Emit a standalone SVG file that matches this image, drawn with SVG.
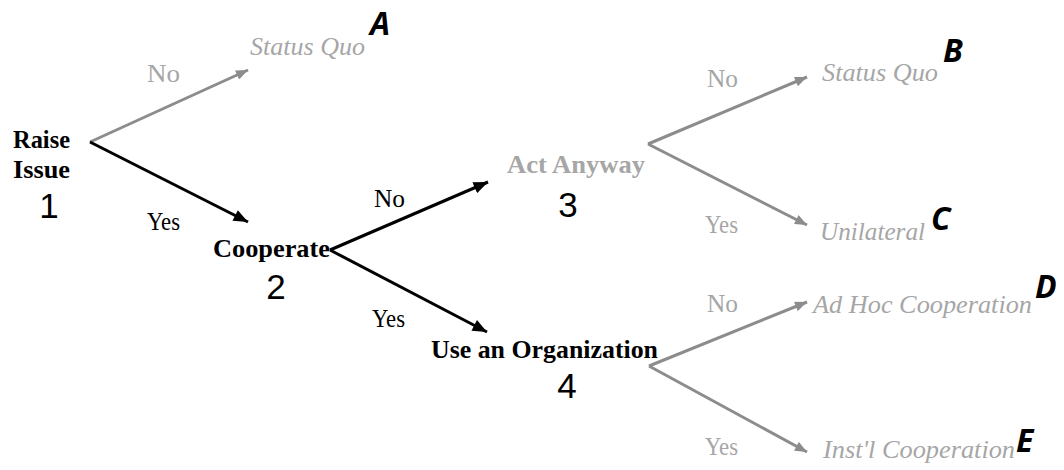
<svg xmlns="http://www.w3.org/2000/svg" width="1064" height="470" viewBox="0 0 1064 470">
<defs>
<marker id="ahB" viewBox="0 0 12 10" refX="12" refY="5" markerWidth="15" markerHeight="12" markerUnits="userSpaceOnUse" orient="auto"><path d="M0,0 L12,5 L0,10 Z" fill="#000"/></marker>
<marker id="ahG" viewBox="0 0 12 10" refX="12" refY="5" markerWidth="13" markerHeight="10" markerUnits="userSpaceOnUse" orient="auto"><path d="M0,0 L12,5 L0,10 Z" fill="#8c8c8c"/></marker>
</defs>
<style>
text{font-family:"Liberation Serif",serif}
.node{font-weight:bold;font-size:26px;fill:#000}
.gnode{font-weight:bold;font-size:26px;fill:#a6a6a6}
.num{font-family:"Liberation Sans",sans-serif;font-size:35px;fill:#000;text-anchor:middle}
.lbl{font-size:25px;fill:#a6a6a6}
.lblB{font-size:25px;fill:#000}
.out{font-style:italic;font-size:26px;fill:#a6a6a6}
.let{font-family:"Open Sans","Liberation Sans",sans-serif;font-style:italic;font-weight:bold;font-size:32px;fill:#000}
.cb{stroke:#000;stroke-width:3;fill:none;marker-end:url(#ahB)}
.cg{stroke:#8c8c8c;stroke-width:3;fill:none;marker-end:url(#ahG)}
</style>
<rect width="1064" height="470" fill="#fff"/>
<g id="connectors">
<line class="cg" x1="90" y1="142" x2="248" y2="70"/>
<line class="cb" x1="90" y1="142" x2="248" y2="222"/>
<line class="cb" x1="330" y1="250" x2="488" y2="182"/>
<line class="cb" x1="330" y1="250" x2="487" y2="332"/>
<line class="cg" x1="648" y1="144" x2="807" y2="77"/>
<line class="cg" x1="648" y1="144" x2="807" y2="225"/>
<line class="cg" x1="649" y1="366" x2="807" y2="302"/>
<line class="cg" x1="649" y1="366" x2="807" y2="452"/>
<text class="lbl" x="147" y="82" textLength="33" lengthAdjust="spacingAndGlyphs">No</text>
<text class="lblB" x="147" y="230" textLength="33" lengthAdjust="spacingAndGlyphs">Yes</text>
<text class="lblB" x="374" y="207" textLength="31" lengthAdjust="spacingAndGlyphs">No</text>
<text class="lblB" x="372" y="327" textLength="33" lengthAdjust="spacingAndGlyphs">Yes</text>
<text class="lbl" x="707" y="87" textLength="31" lengthAdjust="spacingAndGlyphs">No</text>
<text class="lbl" x="705" y="233" textLength="33" lengthAdjust="spacingAndGlyphs">Yes</text>
<text class="lbl" x="707" y="312" textLength="31" lengthAdjust="spacingAndGlyphs">No</text>
<text class="lbl" x="705" y="455" textLength="33" lengthAdjust="spacingAndGlyphs">Yes</text>
</g>
<g id="node1">
<text class="node" x="13" y="148" textLength="57" lengthAdjust="spacingAndGlyphs">Raise</text>
<text class="node" x="13" y="178" textLength="57" lengthAdjust="spacingAndGlyphs">Issue</text>
<text class="num" x="49" y="218">1</text>
</g>
<g id="nodeA">
<text class="out" x="250" y="55" textLength="115" lengthAdjust="spacingAndGlyphs">Status Quo</text>
<text class="let" x="370" y="35">A</text>
</g>
<g id="node2">
<text class="node" x="213" y="257" textLength="117" lengthAdjust="spacingAndGlyphs">Cooperate</text>
<text class="num" x="276" y="299">2</text>
</g>
<g id="node3">
<text class="gnode" x="507" y="173" textLength="138" lengthAdjust="spacingAndGlyphs">Act Anyway</text>
<text class="num" x="568" y="217">3</text>
</g>
<g id="node4">
<text class="node" x="431" y="358" textLength="227" lengthAdjust="spacingAndGlyphs">Use an Organization</text>
<text class="num" x="567" y="398">4</text>
</g>
<g id="nodeB">
<text class="out" x="822" y="81" textLength="116" lengthAdjust="spacingAndGlyphs">Status Quo</text>
<text class="let" x="943" y="62">B</text>
</g>
<g id="nodeC">
<text class="out" x="820" y="240" textLength="105" lengthAdjust="spacingAndGlyphs">Unilateral</text>
<text class="let" x="931" y="230">C</text>
</g>
<g id="nodeD">
<text class="out" x="813" y="313" textLength="219" lengthAdjust="spacingAndGlyphs">Ad Hoc Cooperation</text>
<text class="let" x="1035" y="298">D</text>
</g>
<g id="nodeE">
<text class="out" x="823" y="458" textLength="192" lengthAdjust="spacingAndGlyphs">Inst'l Cooperation</text>
<text class="let" x="1016" y="452">E</text>
</g>
</svg>
